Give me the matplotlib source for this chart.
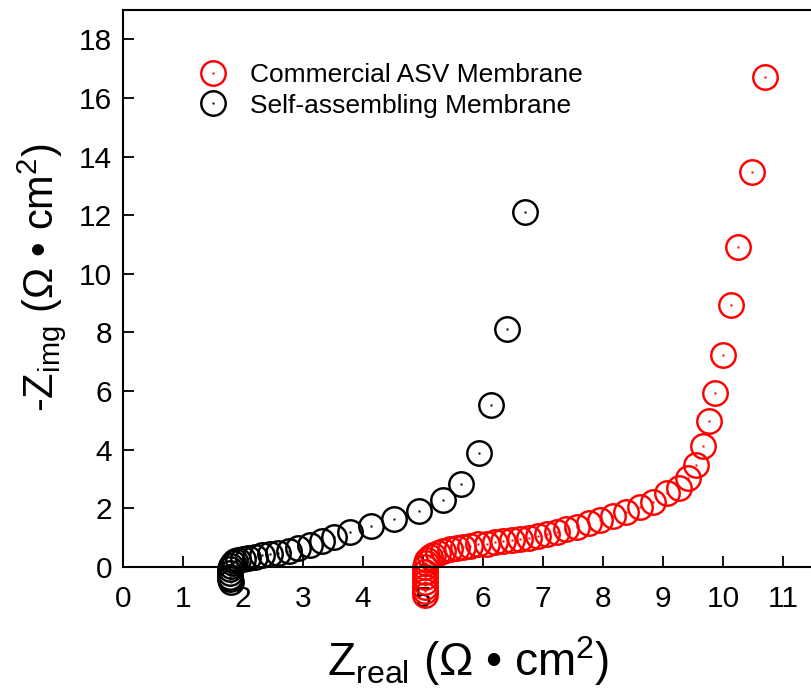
import matplotlib

matplotlib.use("Agg")

import matplotlib.pyplot as plt
from matplotlib.legend_handler import HandlerTuple

# Nyquist data (Z_real, -Z_img), ohm cm^2
asv_real = [5.03, 5.03, 5.03, 5.03, 5.03, 5.03, 5.04, 5.05, 5.07, 5.11, 5.17, 5.25,
            5.33, 5.45, 5.56, 5.67, 5.79, 5.92, 6.06, 6.20, 6.34, 6.48, 6.62, 6.76,
            6.91, 7.06, 7.23, 7.39, 7.56, 7.76, 7.95, 8.17, 8.39, 8.62, 8.84, 9.06,
            9.26, 9.42, 9.55, 9.66, 9.77, 9.87, 10.00, 10.13, 10.25, 10.48, 10.70]
asv_img = [-0.95, -0.82, -0.67, -0.51, -0.34, -0.17, 0.00, 0.13, 0.25, 0.34, 0.42, 0.49,
           0.55, 0.60, 0.65, 0.68, 0.73, 0.77, 0.80, 0.84, 0.87, 0.92, 0.95, 1.00,
           1.05, 1.11, 1.20, 1.28, 1.37, 1.49, 1.60, 1.73, 1.88, 2.05, 2.22, 2.51,
           2.68, 3.02, 3.47, 4.13, 4.97, 5.92, 7.24, 8.95, 10.92, 13.47, 16.70]

sa_real = [1.80, 1.79, 1.78, 1.78, 1.78, 1.80, 1.83, 1.87, 1.92, 2.00, 2.09, 2.20,
           2.31, 2.45, 2.59, 2.76, 2.92, 3.12, 3.31, 3.52, 3.78, 4.13, 4.52, 4.93,
           5.33, 5.63, 5.93, 6.13, 6.40, 6.70]
sa_img = [-0.50, -0.42, -0.35, -0.22, -0.08, 0.03, 0.13, 0.19, 0.24, 0.28, 0.32, 0.35,
          0.40, 0.44, 0.49, 0.56, 0.64, 0.75, 0.88, 1.02, 1.19, 1.39, 1.63, 1.90,
          2.28, 2.82, 3.88, 5.51, 8.13, 12.11]

labels = ["Commercial ASV Membrane", "Self-assembling Membrane"]
colors = ["#ff0000", "#000000"]

plt.rcParams["font.family"] = ["Liberation Sans", "DejaVu Sans"]
plt.rcParams["mathtext.fontset"] = "custom"
plt.rcParams["mathtext.rm"] = "Liberation Sans"

fig = plt.figure(figsize=(8.11, 6.90), dpi=100)
ax = fig.add_axes([0.1517, 0.1783, 0.8878, 0.8072])

handles = []
for xs, ys, c in zip([asv_real, sa_real], [asv_img, sa_img], colors):
    ring, = ax.plot(xs, ys, "o", ms=17.6, mfc="none", mec=c, mew=1.75, ls="none", clip_on=False)
    dot, = ax.plot(xs, ys, "s", ms=2.0, mfc=c, mec="none", ls="none", clip_on=False)
    handles.append((ring, dot))

ax.set_xlim(0, 12)
ax.set_ylim(0, 19)
ax.set_xticks(range(0, 12))
ax.set_yticks(range(0, 19, 2))
ax.tick_params(direction="in", length=8, width=1.3, labelsize=21.5)
ax.tick_params(axis="x", pad=13)
ax.tick_params(axis="y", pad=8)
for side in ["left", "bottom", "top"]:
    ax.spines[side].set_linewidth(1.5)
ax.spines["right"].set_visible(False)

ax.set_xlabel(r"Z$_\mathregular{real}$ (Ω • cm$^\mathregular{2}$)", fontsize=33)
ax.xaxis.set_label_coords(5.75 / 12, -0.12)
ax.set_ylabel(r"-Z$_\mathregular{img}$ (Ω • cm$^\mathregular{2}$)", fontsize=30)
ax.yaxis.set_label_coords(-0.076, 0.519)

ax.legend(handles, labels, handler_map={tuple: HandlerTuple(ndivide=1)},
          loc="upper left", bbox_to_anchor=(0.1065, 0.905), frameon=False,
          fontsize=19, handlelength=1.0, handletextpad=0.9, labelspacing=0.25,
          borderpad=0, borderaxespad=0)

fig.savefig("out.png", dpi=100)
